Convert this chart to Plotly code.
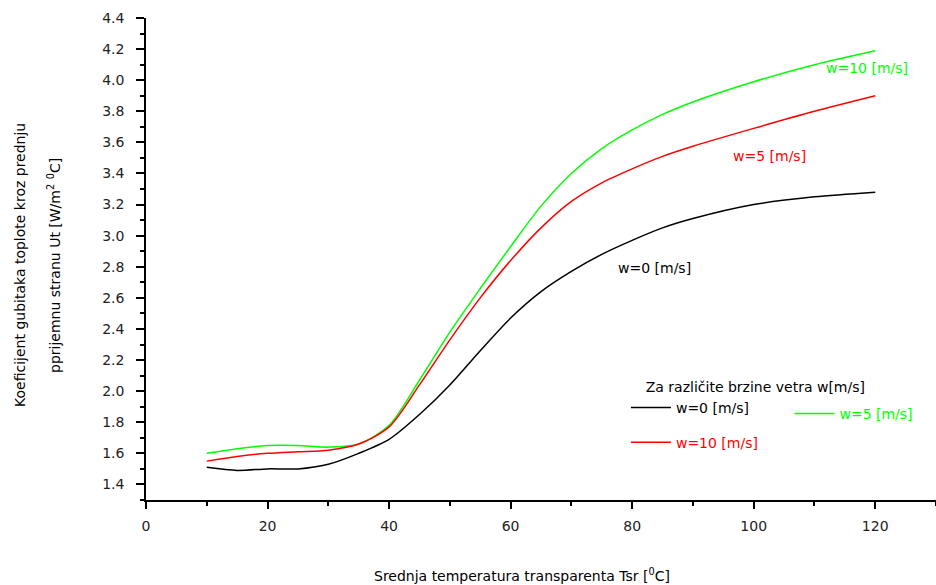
import plotly.graph_objects as go

# Data
temp = [10, 15, 20, 25, 30, 35, 40, 45, 50, 55, 60, 65, 70, 75, 80, 85, 90, 100, 110, 120]
ut_w0 = [1.51, 1.49, 1.50, 1.50, 1.53, 1.60, 1.69, 1.85, 2.04, 2.26, 2.47, 2.64, 2.77, 2.88, 2.97, 3.05, 3.11, 3.20, 3.25, 3.28]
ut_green = [1.60, 1.63, 1.65, 1.65, 1.64, 1.66, 1.78, 2.07, 2.38, 2.66, 2.93, 3.19, 3.40, 3.56, 3.68, 3.78, 3.86, 3.99, 4.10, 4.19]
ut_red = [1.55, 1.58, 1.60, 1.61, 1.62, 1.66, 1.77, 2.04, 2.33, 2.60, 2.84, 3.05, 3.22, 3.34, 3.43, 3.51, 3.575, 3.69, 3.80, 3.90]

series_names = ["w=0 [m/s]", "w=5 [m/s]", "w=10 [m/s]"]
series_vals = [ut_w0, ut_green, ut_red]
series_colors = ["#000000", "#00ff00", "#ff0000"]
series_legends = ["legend", "legend2", "legend3"]

FONT = "DejaVu Sans, Verdana, sans-serif"

fig = go.Figure()
for name, vals, col, lg in zip(series_names, series_vals, series_colors, series_legends):
    fig.add_trace(go.Scatter(
        x=temp, y=vals, mode="lines", line=dict(color=col, width=1.5, shape="spline", smoothing=0.8),
        name=f"<span style='color:{col}'>{name}</span>", legend=lg,
    ))

# in-plot labels
fig.add_annotation(x=118.7, y=4.08, text="w=10 [m/s]", showarrow=False,
                   font=dict(color="#00ff00", size=14, family=FONT))
fig.add_annotation(x=102.6, y=3.51, text="w=5 [m/s]", showarrow=False,
                   font=dict(color="#ff0000", size=14, family=FONT))
fig.add_annotation(x=83.7, y=2.79, text="w=0 [m/s]", showarrow=False,
                   font=dict(color="#000000", size=14, family=FONT))

# axis titles
fig.add_annotation(xref="paper", yref="paper", x=-0.1595, y=0.4876, xanchor="center", yanchor="middle",
                   text="Koeficijent gubitaka toplote kroz prednju",
                   textangle=-90, showarrow=False, font=dict(size=14, family=FONT, color="#000"))
fig.add_annotation(xref="paper", yref="paper", x=-0.1165, y=0.4876, xanchor="center", yanchor="middle",
                   text="pprijemnu stranu Ut [W/m<sup>2</sup> <sup>0</sup>C]",
                   textangle=-90, showarrow=False, font=dict(size=14, family=FONT, color="#000"))
fig.add_annotation(xref="paper", yref="paper", x=0.476, y=-0.156, xanchor="center", yanchor="middle",
                   text="Srednja temperatura transparenta Tsr [<sup>0</sup>C]",
                   showarrow=False, font=dict(size=14, family=FONT, color="#000"))

leg_common = dict(bgcolor="rgba(0,0,0,0)", font=dict(size=14, family=FONT), xanchor="left",
                  yanchor="top", orientation="v", itemwidth=40)

fig.update_layout(
    width=936, height=585,
    margin=dict(l=146, r=0, t=18, b=85),
    paper_bgcolor="white", plot_bgcolor="white",
    font=dict(family=FONT, size=12, color="#000"),
    showlegend=True,
    legend=dict(title=dict(text="&nbsp;&nbsp;&nbsp;&nbsp;Za različite brzine vetra w[m/s]", side="top",
                           font=dict(size=14, family=FONT, color="#000")),
                x=0.6075, y=0.262, **leg_common),
    legend2=dict(x=0.8145, y=0.212, **leg_common),
    legend3=dict(x=0.6075, y=0.152, **leg_common),
    xaxis=dict(range=[0, 130], tick0=0, dtick=20, ticks="outside", ticklen=7,
               tickwidth=1.5, tickcolor="#000", showline=True, linecolor="#000",
               linewidth=1.5, showgrid=False, zeroline=False, ticklabelstandoff=5,
               minor=dict(dtick=10, ticks="outside", ticklen=4, tickcolor="#000", tickwidth=1.5),
               tickfont=dict(size=14, color="#222", family=FONT)),
    yaxis=dict(range=[1.3, 4.4], tick0=1.4, dtick=0.2, tickformat=".1f", ticks="outside",
               ticklen=8, tickwidth=1.5, tickcolor="#000", showline=True, linecolor="#000",
               linewidth=1.5, showgrid=False, zeroline=False, ticklabelstandoff=9,
               minor=dict(dtick=0.1, tick0=1.3, ticks="outside", ticklen=4, tickcolor="#000", tickwidth=1.5),
               tickfont=dict(size=14, color="#222", family=FONT)),
)

fig.write_html("out.html")
